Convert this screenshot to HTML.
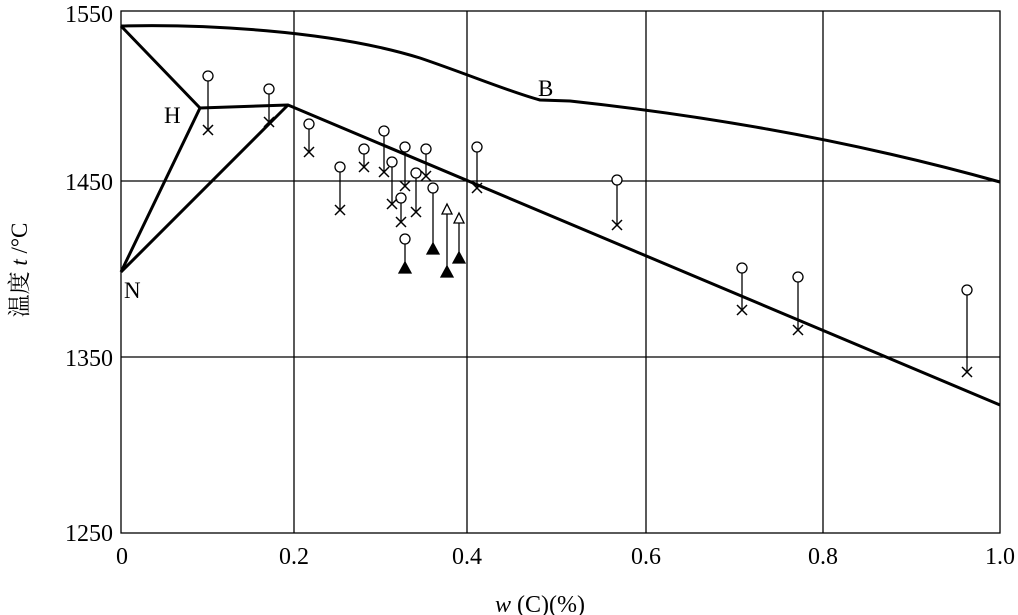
<!DOCTYPE html>
<html><head><meta charset="utf-8"><style>body{margin:0;background:#fff}svg{display:block}</style></head><body>
<svg width="1018" height="615" viewBox="0 0 1018 615" xmlns="http://www.w3.org/2000/svg" font-family="'Liberation Serif','Noto Serif CJK SC',serif">
<rect x="0" y="0" width="1018" height="615" fill="#fff"/>
<g stroke="#000" stroke-width="1.3" fill="none">
<rect x="121" y="11" width="879" height="522"/>
<line x1="294" y1="11" x2="294" y2="533"/>
<line x1="467" y1="11" x2="467" y2="533"/>
<line x1="646" y1="11" x2="646" y2="533"/>
<line x1="823" y1="11" x2="823" y2="533"/>
<line x1="121" y1="181" x2="1000" y2="181"/>
<line x1="121" y1="357" x2="1000" y2="357"/>
</g>
<g stroke="#000" stroke-width="3" fill="none" stroke-linejoin="round">
<path d="M121,26 C200,24 330,30 420,58 C470,75 510,92 540,100 L570,101 C700,115 850,140 1000,182"/>
<path d="M121,26 L200,108 L288,105 L1000,405"/>
<path d="M121,272 L200,108"/>
<path d="M121,272 L288,105"/>
</g>
<g font-size="23" fill="#000">
<text x="164" y="123">H</text>
<text x="538" y="96">B</text>
<text x="124" y="298">N</text>
<g text-anchor="end" font-size="24"><text x="113" y="22">1550</text><text x="113" y="190">1450</text><text x="113" y="366">1350</text><text x="113" y="541">1250</text></g>
<g text-anchor="middle" font-size="24"><text x="122" y="564">0</text><text x="294" y="564">0.2</text><text x="467" y="564">0.4</text><text x="646" y="564">0.6</text><text x="823" y="564">0.8</text><text x="1000" y="564">1.0</text>
<text x="540" y="612"><tspan font-style="italic">w</tspan> (C)(%)</text></g>
<text transform="translate(27,270) rotate(-90)" text-anchor="middle" font-size="23">温度 <tspan font-style="italic">t</tspan> /°C</text>
</g>
<g stroke="#000" stroke-width="1.3" fill="#fff">
<line x1="208" y1="81" x2="208" y2="130"/><circle cx="208" cy="76" r="5"/>
<line x1="269" y1="94" x2="269" y2="122"/><circle cx="269" cy="89" r="5"/>
<line x1="309" y1="129" x2="309" y2="152"/><circle cx="309" cy="124" r="5"/>
<line x1="340" y1="172" x2="340" y2="210"/><circle cx="340" cy="167" r="5"/>
<line x1="364" y1="154" x2="364" y2="167"/><circle cx="364" cy="149" r="5"/>
<line x1="384" y1="136" x2="384" y2="172"/><circle cx="384" cy="131" r="5"/>
<line x1="392" y1="167" x2="392" y2="204"/><circle cx="392" cy="162" r="5"/>
<line x1="405" y1="152" x2="405" y2="186"/><circle cx="405" cy="147" r="5"/>
<line x1="401" y1="203" x2="401" y2="222"/><circle cx="401" cy="198" r="5"/>
<line x1="416" y1="178" x2="416" y2="212"/><circle cx="416" cy="173" r="5"/>
<line x1="426" y1="154" x2="426" y2="176"/><circle cx="426" cy="149" r="5"/>
<line x1="477" y1="152" x2="477" y2="188"/><circle cx="477" cy="147" r="5"/>
<line x1="617" y1="185" x2="617" y2="225"/><circle cx="617" cy="180" r="5"/>
<line x1="742" y1="273" x2="742" y2="310"/><circle cx="742" cy="268" r="5"/>
<line x1="798" y1="282" x2="798" y2="330"/><circle cx="798" cy="277" r="5"/>
<line x1="967" y1="295" x2="967" y2="372"/><circle cx="967" cy="290" r="5"/>
<line x1="433" y1="193" x2="433" y2="250"/><circle cx="433" cy="188" r="5"/>
<line x1="405" y1="244" x2="405" y2="268"/><circle cx="405" cy="239" r="5"/>
<line x1="447" y1="212" x2="447" y2="272"/><path d="M442,214 L452,214 L447,204 Z"/>
<line x1="459" y1="221" x2="459" y2="258"/><path d="M454,223 L464,223 L459,213 Z"/>
<g fill="#000">
<path d="M427,254 L439,254 L433,243 Z"/>
<path d="M399,273 L411,273 L405,262 Z"/>
<path d="M441,277 L453,277 L447,266 Z"/>
<path d="M453,263 L465,263 L459,252 Z"/>
</g>
<g stroke-width="1.5">
<path d="M203,125 l10,10 m0,-10 l-10,10"/>
<path d="M264,117 l10,10 m0,-10 l-10,10"/>
<path d="M304,147 l10,10 m0,-10 l-10,10"/>
<path d="M335,205 l10,10 m0,-10 l-10,10"/>
<path d="M359,162 l10,10 m0,-10 l-10,10"/>
<path d="M379,167 l10,10 m0,-10 l-10,10"/>
<path d="M387,199 l10,10 m0,-10 l-10,10"/>
<path d="M400,181 l10,10 m0,-10 l-10,10"/>
<path d="M396,217 l10,10 m0,-10 l-10,10"/>
<path d="M411,207 l10,10 m0,-10 l-10,10"/>
<path d="M421,171 l10,10 m0,-10 l-10,10"/>
<path d="M472,183 l10,10 m0,-10 l-10,10"/>
<path d="M612,220 l10,10 m0,-10 l-10,10"/>
<path d="M737,305 l10,10 m0,-10 l-10,10"/>
<path d="M793,325 l10,10 m0,-10 l-10,10"/>
<path d="M962,367 l10,10 m0,-10 l-10,10"/>
</g>
</g>
</svg>
</body></html>
